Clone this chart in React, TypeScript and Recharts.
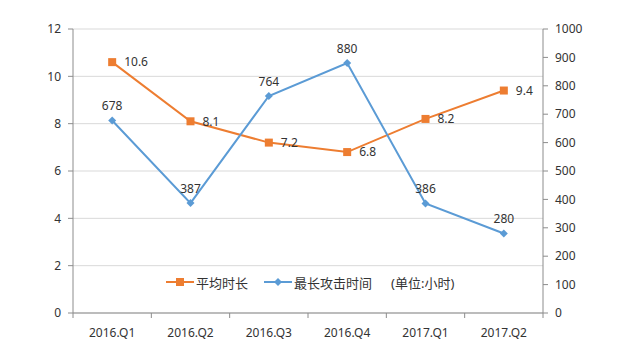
import React from 'react';
import { LineChart, Line, XAxis, YAxis, CartesianGrid, Legend, LabelList } from 'recharts';

const categories = ['2016.Q1', '2016.Q2', '2016.Q3', '2016.Q4', '2017.Q1', '2017.Q2'];
const avgDuration = [10.6, 8.1, 7.2, 6.8, 8.2, 9.4];
const maxAttack = [678, 387, 764, 880, 386, 280];
const leftTicks = [0, 2, 4, 6, 8, 10, 12];
const rightTicks = [0, 100, 200, 300, 400, 500, 600, 700, 800, 900, 1000];
const seriesNames = ['平均时长', '最长攻击时间'];
const unitNote = '(单位:小时)';

const data = categories.map((c, i) => ({ name: c, avg: avgDuration[i], max: maxAttack[i] }));

const ORANGE = '#ED7D31';
const BLUE = '#5B9BD5';
const AXIS = '#8c8c8c';
const TEXT = '#333333';
const FONT = '"Noto Sans", "Noto Sans CJK SC", sans-serif';
const X_MARGIN = 15;

const XTick = (props: any) => {
  const { x, y, payload, index, visibleTicksCount } = props;
  const off = payload.offset ?? 0;
  const axisY = y - X_MARGIN;
  return (
    <g>
      <line x1={x - off} x2={x - off} y1={axisY} y2={axisY + 5} stroke={AXIS} />
      {index === visibleTicksCount - 1 && (
        <line x1={x + off} x2={x + off} y1={axisY} y2={axisY + 5} stroke={AXIS} />
      )}
      <text x={x} y={y} dy="0.71em" textAnchor="middle" fill={TEXT} fontSize={12} fontFamily={FONT}>
        {payload.value}
      </text>
    </g>
  );
};

const SquareDot = (p: any) => (
  <rect key={`s${p.index}`} x={p.cx - 4} y={p.cy - 4} width={8} height={8} fill={ORANGE} />
);

const DiamondDot = (p: any) => (
  <polygon
    key={`d${p.index}`}
    points={`${p.cx},${p.cy - 4} ${p.cx + 4},${p.cy} ${p.cx},${p.cy + 4} ${p.cx - 4},${p.cy}`}
    fill={BLUE}
  />
);

const LegendContent = () => (
  <div style={{ display: 'flex', alignItems: 'center', height: 20, fontFamily: FONT, fontSize: 13, color: TEXT, whiteSpace: 'nowrap' }}>
    <svg width={28} height={14}>
      <line x1={0} x2={28} y1={7} y2={7} stroke={ORANGE} strokeWidth={2} />
      <rect x={10} y={3} width={8} height={8} fill={ORANGE} />
    </svg>
    <span style={{ marginLeft: 2 }}>{seriesNames[0]}</span>
    <svg width={28} height={14} style={{ marginLeft: 16 }}>
      <line x1={0} x2={28} y1={7} y2={7} stroke={BLUE} strokeWidth={2} />
      <polygon points="14,3 18,7 14,11 10,7" fill={BLUE} />
    </svg>
    <span style={{ marginLeft: 2 }}>{seriesNames[1]}</span>
    <span style={{ marginLeft: 19 }}>{unitNote}</span>
  </div>
);

export default function App() {
  return (
    <div style={{ position: 'absolute', left: 0, top: 0, width: 631, height: 353, background: '#fff' }}>
      <LineChart width={631} height={353} data={data} margin={{ top: 29, right: 0, bottom: 0, left: 0 }}>
        <CartesianGrid vertical={false} yAxisId="left" stroke="#d9d9d9" />
        <XAxis
          dataKey="name"
          scale="band"
          height={40}
          tickLine={false}
          tickSize={0}
          tickMargin={X_MARGIN}
          tick={<XTick />}
          axisLine={{ stroke: AXIS }}
          interval={0}
        />
        <YAxis
          yAxisId="left"
          width={73}
          domain={[0, 12]}
          ticks={leftTicks}
          tickSize={5}
          tickMargin={7}
          axisLine={{ stroke: AXIS }}
          tickLine={{ stroke: AXIS }}
          tick={{ fill: TEXT, fontSize: 12, fontFamily: FONT }}
          interval={0}
        />
        <YAxis
          yAxisId="right"
          orientation="right"
          width={88}
          domain={[0, 1000]}
          ticks={rightTicks}
          tickSize={5}
          tickMargin={7}
          axisLine={{ stroke: AXIS }}
          tickLine={{ stroke: AXIS }}
          tick={{ fill: TEXT, fontSize: 12, fontFamily: FONT }}
          interval={0}
        />
        <Legend
          verticalAlign="middle"
          layout="horizontal"
          content={<LegendContent />}
          wrapperStyle={{ top: 272, left: 166, width: 330 }}
        />
        <Line
          yAxisId="left"
          dataKey="avg"
          name={seriesNames[0]}
          stroke={ORANGE}
          strokeWidth={2}
          dot={SquareDot}
          activeDot={false}
          isAnimationActive={false}
        >
          <LabelList dataKey="avg" position="right" offset={12} fill={TEXT} fontSize={12} fontFamily={FONT} />
        </Line>
        <Line
          yAxisId="right"
          dataKey="max"
          name={seriesNames[1]}
          stroke={BLUE}
          strokeWidth={2}
          dot={DiamondDot}
          activeDot={false}
          isAnimationActive={false}
        >
          <LabelList dataKey="max" position="top" offset={10} fill={TEXT} fontSize={12} fontFamily={FONT} />
        </Line>
      </LineChart>
    </div>
  );
}
